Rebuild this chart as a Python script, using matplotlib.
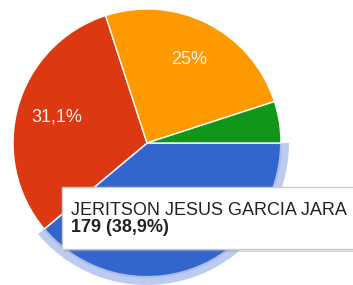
import matplotlib.pyplot as plt
from matplotlib.patches import Wedge, Rectangle

# Datos (votos por candidato)
candidatos = ['JERITSON JESUS GARCIA JARA', 'Candidato 2', 'Candidato 3', 'Candidato 4']
votos = [179, 143, 115, 23]
colores = ['#3366cc', '#dc3912', '#ff9900', '#109618']

plt.rcParams['font.family'] = ['Liberation Sans', 'DejaVu Sans']


def formato_pct(pct):
    # estilo Google: coma decimal, sin ",0"
    s = f'{pct:.1f}'
    if s.endswith('.0'):
        s = s[:-2]
    return s.replace('.', ',') + '%'


def etiqueta(pct):
    # las porciones pequenas no llevan etiqueta
    if pct < 6:
        return ''
    return formato_pct(pct)


fig = plt.figure(figsize=(3.53, 2.85), dpi=100)
ax = fig.add_axes([0, 0, 1, 1])

wedges, textos, autotextos = ax.pie(
    votos, colors=colores, startangle=0, counterclock=False,
    center=(147, 142), radius=134, autopct=etiqueta, pctdistance=0.7,
    wedgeprops=dict(edgecolor='white', linewidth=1),
    textprops=dict(color='#fff4ec', fontsize=13))

# la etiqueta de la porcion seleccionada queda tapada por el tooltip
autotextos[0].set_text('')

# resaltado de la porcion seleccionada
w = wedges[0]
anillo = Wedge(w.center, w.r + 8, w.theta1, w.theta2, width=9,
               facecolor='#bccbef', edgecolor='none', zorder=0)
ax.add_patch(anillo)
w.set_edgecolor('#a9bdea')
w.set_linewidth(1.5)

# tooltip
ax.add_patch(Rectangle((64, 33), 300, 62, facecolor='#999999', alpha=0.35,
                       edgecolor='none', zorder=4))
ax.add_patch(Rectangle((62, 36), 300, 62, facecolor='white',
                       edgecolor='#cccccc', linewidth=1, zorder=5))
pct_sel = votos[0] / sum(votos) * 100
ax.text(71, 70, candidatos[0], fontsize=13, color='#222222',
        va='baseline', ha='left', zorder=6)
ax.text(71, 53, f'{votos[0]} ({formato_pct(pct_sel)})', fontsize=13,
        color='#222222', fontweight='bold', va='baseline', ha='left', zorder=6)

ax.set_xlim(0, 353)
ax.set_ylim(0, 285)
ax.set_aspect('auto')
ax.axis('off')

fig.savefig('out.png', dpi=100)
